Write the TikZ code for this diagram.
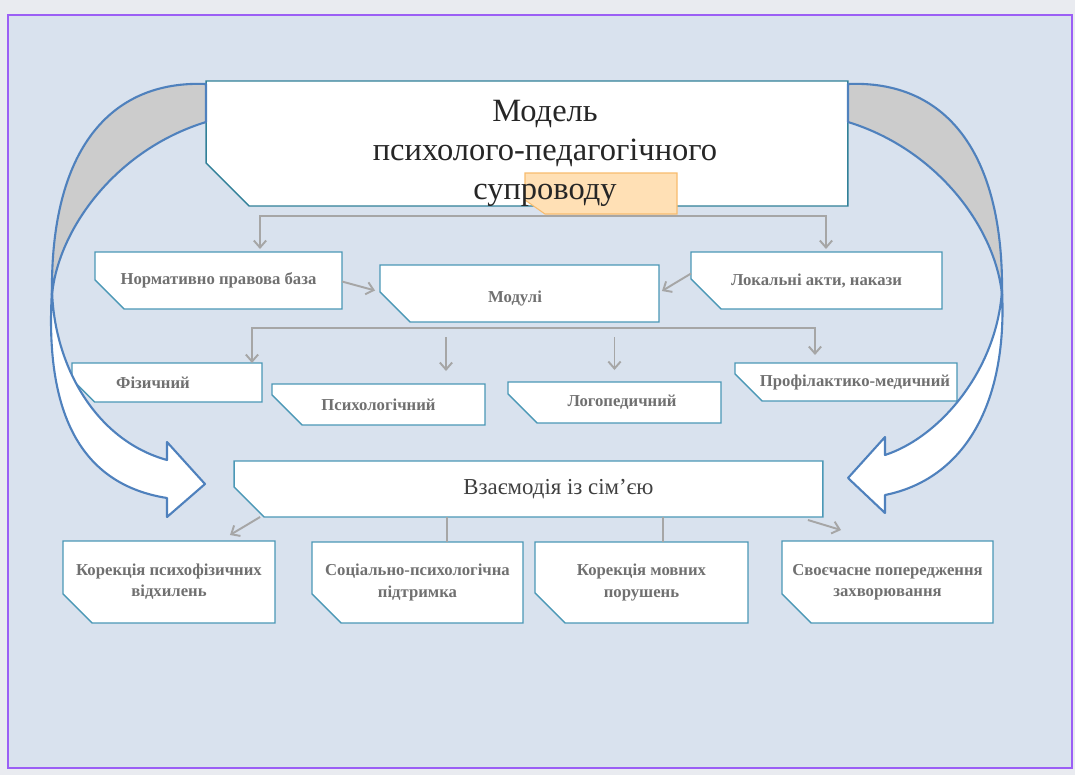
\documentclass[tikz,border=0pt]{standalone}
\usepackage{fontspec}
\setmainfont{Liberation Serif}
\usetikzlibrary{arrows.meta}

\definecolor{pagegray}{RGB}{233,235,240}
\definecolor{panelblue}{RGB}{217,226,238}
\definecolor{framepurple}{RGB}{155,95,245}
\definecolor{boxteal}{RGB}{75,152,182}
\definecolor{mainteal}{RGB}{49,128,152}
\definecolor{linkgray}{RGB}{166,166,166}
\definecolor{ribbonblue}{RGB}{79,129,189}
\definecolor{ribbongray}{RGB}{204,204,204}
\definecolor{hlorange}{RGB}{255,224,181}
\definecolor{hledge}{RGB}{248,188,110}
\definecolor{labelgray}{RGB}{112,112,112}

\pgfdeclarelayer{back}
\pgfdeclarelayer{boxes}
\pgfsetlayers{back,boxes,main}

\tikzset{
  box/.style={inner sep=0pt, outer sep=0pt, align=center, text=labelgray,
    font=\fontsize{9.5}{12}\selectfont\bfseries},
  boxline/.style={draw=boxteal, line width=0.8pt, fill=white},
  link/.style={draw=linkgray, line width=1.1pt},
  ribbon/.style={draw=ribbonblue, line width=1.2pt, line join=round},
  >={Straight Barb[length=4pt,width=7pt]}
}

% box outline with the lower left corner cut off
\newcommand\cutbox[2][0.58cm]{%
  \begin{pgfonlayer}{boxes}
    \draw[boxline] (#2.north west) -- (#2.north east) -- (#2.south east)
      -- ([xshift=#1]#2.south west) -- ([yshift=#1]#2.south west) -- cycle;
  \end{pgfonlayer}}

\begin{document}
\begin{tikzpicture}[x=0.02cm, y=-0.02cm]
\useasboundingbox (0,0) rectangle (1075,775);
\begin{pgfonlayer}{back}
  \fill[pagegray] (0,0) rectangle (1075,775);
  \draw[framepurple, line width=1.6pt, fill=panelblue] (8,15) rectangle (1072,768);
\end{pgfonlayer}

% title
\node[box, minimum width=12.84cm, minimum height=2.5cm,
  label={[name=title, align=center, xshift=0.36cm, yshift=-0.2cm, text=black!85,
    font=\fontsize{18.5}{22}\selectfont]center:Модель\\психолого-педагогічного\\супроводу}]
  (model) at (527,143.5) {};
\begin{pgfonlayer}{boxes}
  \draw[boxline, draw=mainteal] (model.north west) -- (model.north east) -- (model.south east)
    -- ([xshift=0.86cm]model.south west) -- ([yshift=0.86cm]model.south west) -- cycle;
  \draw[fill=hlorange, draw=hledge, line width=0.6pt]
    (525,173) -- (677,173) -- (677,214) -- (545,214) -- (525,200) -- cycle;
\end{pgfonlayer}

\node[box, minimum width=4.94cm, minimum height=1.14cm] (norm) at (218.5,280.5) {Нормативно правова база};
\node[box, minimum width=5.58cm, minimum height=1.14cm,
  label={[box, xshift=-0.09cm, yshift=-0.1cm]center:Модулі}] (modul) at (519.5,293.5) {};
\node[box, minimum width=5.02cm, minimum height=1.14cm] (akty) at (816.5,280.5) {Локальні акти, накази};

\node[box, minimum width=3.8cm, minimum height=0.78cm,
  label={[box, xshift=-0.28cm]center:Фізичний}] (fiz) at (167,382.5) {};
\node[box, minimum width=4.26cm, minimum height=0.82cm] (psy) at (378.5,404.5) {Психологічний};
\node[box, minimum width=4.26cm, minimum height=0.82cm,
  label={[box, xshift=0.15cm]center:Логопедичний}] (logo) at (614.5,402.5) {};
\node[box, minimum width=4.44cm, minimum height=0.76cm,
  label={[box, xshift=0.18cm]center:Профілактико-медичний}] (prof) at (846,382) {};

\node[box, minimum width=11.78cm, minimum height=1.12cm,
  label={[name=vzt, xshift=0.6cm, text=black!75, font=\fontsize{13}{15}\selectfont]center:Взаємодія із сім’єю}]
  (vz) at (528.5,489) {};

\node[box, minimum width=4.24cm, minimum height=1.64cm] (korfiz) at (169,582) {Корекція психофізичних\\відхилень};
\node[box, minimum width=4.22cm, minimum height=1.62cm] (soc) at (417.5,582.5) {Соціально-психологічна\\підтримка};
\node[box, minimum width=4.26cm, minimum height=1.62cm] (kormov) at (641.5,582.5) {Корекція мовних\\порушень};
\node[box, minimum width=4.22cm, minimum height=1.64cm] (svo) at (887.5,582) {Своєчасне попередження\\захворювання};

\foreach \n/\cut in {norm/0.58cm, modul/0.6cm, akty/0.6cm, fiz/0.45cm, psy/0.6cm, logo/0.58cm,
    prof/0.54cm, vz/0.6cm, korfiz/0.58cm, soc/0.58cm, kormov/0.6cm, svo/0.58cm}
  {\cutbox[\cut]{\n}}

% connectors
\draw[link,<->] ([xshift=0.83cm,yshift=0.06cm]norm.north) |- ([yshift=-0.2cm]model.south)
  -| ([xshift=0.19cm,yshift=0.06cm]akty.north);
\draw[link,->] ([yshift=-0.02cm]norm.east) -- ([xshift=-0.1cm,yshift=0.06cm]modul.west);
\draw[link,->] ([yshift=0.14cm]akty.west) -- ([xshift=0.06cm,yshift=0.05cm]modul.east);

\draw[link,<->] ([xshift=1.7cm]fiz.north) |- ([yshift=-0.12cm]modul.south)
  -| ([xshift=-0.62cm,yshift=0.16cm]prof.north);
\draw[link,->] ([xshift=1.35cm,yshift=0.94cm]psy.north) -- ([xshift=1.35cm,yshift=0.26cm]psy.north);
\draw[link,->] ([yshift=0.9cm]logo.north) -- ([yshift=0.24cm]logo.north);

\draw[link,->] ([xshift=0.52cm]vz.south west) -- ([xshift=1.22cm,yshift=0.12cm]korfiz.north);
\coordinate (socin) at ([xshift=0.59cm]soc.north);
\draw[link] (socin |- vz.south) -- (socin);
\coordinate (movin) at ([xshift=0.43cm]kormov.north);
\draw[link] (movin |- vz.south) -- (movin);
\draw[link,->] ([xshift=-0.3cm,yshift=-0.06cm]vz.south east) -- ([xshift=-0.93cm,yshift=0.22cm]svo.north);

% curved arrows
\draw[ribbon, fill=ribbongray] (206,84) .. controls (110,80) and (50,150) .. (52,295)
  .. controls (58,230) and (115,150) .. (206,122) -- cycle;
\draw[ribbon, fill=white] (52,290) .. controls (44,420) and (85,485) .. (167,498)
  -- (167,517) -- (205,484) -- (167,442) -- (167,460)
  .. controls (95,440) and (54,365) .. (52,290) -- cycle;

\draw[ribbon, fill=ribbongray] (848,84) .. controls (944,80) and (1004,150) .. (1002,295)
  .. controls (996,230) and (939,150) .. (848,122) -- cycle;
\draw[ribbon, fill=white] (1002,290) .. controls (1008,410) and (960,480) .. (885,495)
  -- (885,513) -- (848,478) -- (885,437) -- (885,455)
  .. controls (940,437) and (997,370) .. (1002,290) -- cycle;
\end{tikzpicture}
\end{document}
